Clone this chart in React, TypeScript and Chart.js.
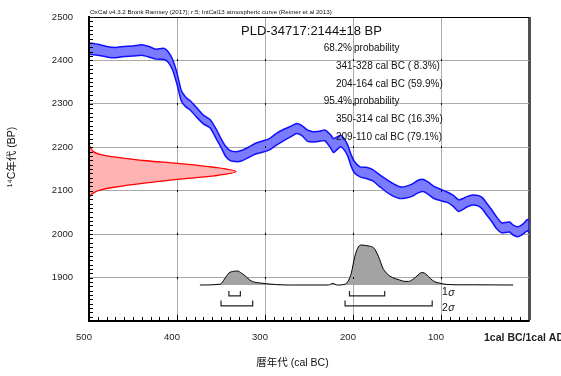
import React, { useEffect, useRef } from 'react';
import { Chart, registerables } from 'chart.js';

Chart.register(...registerables);

const FONT = "'Liberation Sans', Arial, 'Noto Sans CJK JP', sans-serif";

// Calibration curve (IntCal13) – cal BC years with upper / lower 1σ envelope in BP
const calYears = [
  500, 490, 480, 470, 460, 450, 440, 432, 424, 415,
  410, 405, 400, 395, 390, 385, 378, 370, 362, 355,
  350, 345, 340, 333, 326, 318, 310, 302, 295, 287,
  278, 270, 264, 258, 252, 245, 238, 232, 226, 222,
  218, 214, 210, 206, 202, 198, 192, 185, 178, 170,
  162, 155, 147, 140, 133, 126, 120, 114, 108, 100,
  93, 86, 80, 75, 70, 64, 58, 53, 48, 42,
  37, 31, 26, 22, 18, 13, 9, 5, 2, 0,
];
const calUpper = [
  2440, 2437, 2432, 2430, 2432, 2433, 2436, 2432, 2426, 2428,
  2420, 2402, 2371, 2330, 2315, 2307, 2292, 2274, 2263, 2240,
  2220, 2203, 2193, 2190, 2193, 2201, 2210, 2215, 2220, 2232,
  2242, 2249, 2255, 2250, 2240, 2236, 2237, 2240, 2230, 2220,
  2224, 2228, 2220, 2205, 2182, 2166, 2155, 2154, 2149, 2137,
  2126, 2117, 2109, 2110, 2115, 2124, 2126, 2119, 2110, 2103,
  2097, 2089, 2079, 2082, 2087, 2090, 2089, 2084, 2071, 2055,
  2040, 2026, 2027, 2028, 2021, 2017, 2020, 2027, 2034, 2030,
];
const calLower = [
  2414, 2412, 2408, 2406, 2409, 2410, 2412, 2408, 2403, 2402,
  2396, 2378, 2345, 2306, 2293, 2286, 2270, 2254, 2244, 2218,
  2200, 2180, 2170, 2167, 2169, 2177, 2185, 2189, 2194, 2205,
  2216, 2225, 2232, 2227, 2214, 2212, 2214, 2215, 2200, 2188,
  2195, 2201, 2194, 2180, 2156, 2140, 2132, 2128, 2123, 2110,
  2097, 2088, 2082, 2083, 2087, 2095, 2098, 2091, 2082, 2077,
  2073, 2064, 2052, 2057, 2063, 2067, 2065, 2058, 2044, 2028,
  2013, 2003, 2004, 2005, 1998, 1994, 1997, 2003, 2008, 2004,
];

// Measured radiocarbon age distribution (relative probability vs BP)
const measuredBP = [2205, 2190, 2183, 2178, 2169, 2163, 2154, 2144, 2134, 2126, 2118, 2108, 2102, 2095, 2084];
const measuredProb = [0, 0.03, 0.08, 0.17, 0.39, 0.6, 0.85, 1, 0.85, 0.6, 0.39, 0.17, 0.08, 0.03, 0];

// Calibrated distribution (relative probability vs cal BC)
const postYears = [
  374, 351, 346, 341, 336, 331, 327, 322, 317, 312,
  305, 298, 287, 272, 228, 223, 218, 209, 205, 202,
  198, 194, 191, 186, 181, 177, 174, 171, 166, 162,
  158, 152, 147, 141, 137, 132, 126, 122, 119, 116,
  112, 107, 102, 97, 90, 82, 63, 40, 18,
];
const postProb = [
  0, 0.02, 0.15, 0.3, 0.34, 0.35, 0.3, 0.22, 0.12, 0.07,
  0.05, 0.03, 0.01, 0, 0, 0.04, 0, 0.02, 0.12, 0.29,
  0.71, 0.95, 1, 0.99, 0.97, 0.94, 0.85, 0.71, 0.42, 0.3,
  0.22, 0.16, 0.125, 0.09, 0.09, 0.14, 0.25, 0.31, 0.3, 0.25,
  0.16, 0.08, 0.05, 0.025, 0.01, 0.005, 0.005, 0.002, 0,
];

// Ranges
const sigma1Ranges = [[341, 328], [204, 164]];
const sigma1Pct = [8.3, 59.9];
const sigma2Ranges = [[350, 314], [209, 110]];
const sigma2Pct = [16.3, 79.1];
const sigmaLevels = ['68.2%', '95.4%'];
const sigmaNames = ['1', '2'];

// Ticks and texts
const xTickValues = [500, 400, 300, 200, 100, 0];
const xTickLabels = ['500', '400', '300', '200', '100', '1cal BC/1cal AD'];
const yTickValues = [1900, 2000, 2100, 2200, 2300, 2400, 2500];
const headerText = 'OxCal v4.3.2 Bronk Ramsey (2017); r:5; IntCal13 atmospheric curve (Reimer et al 2013)';
const sampleTitle = 'PLD-34717:2144±18 BP';
const yAxisTitle = '¹⁴C年代 (BP)';
const xAxisTitle = '暦年代 (cal BC)';

const fmtRange = (r: number[], p: number) =>
  `${r[0]}-${r[1]} cal BC (${p.toFixed(1).padStart(4, ' ')}%)`;

export default function App() {
  const ref = useRef<HTMLCanvasElement>(null);

  useEffect(() => {
    const canvas = ref.current!;
    const band = [
      ...calYears.map((x, i) => ({ x, y: calUpper[i] })),
      ...calYears.map((x, i) => ({ x, y: calLower[i] })).reverse(),
    ];
    const measured = measuredBP.map((y, i) => ({ x: measuredProb[i], y }));
    const post = postYears.map((x, i) => ({ x, y: postProb[i] }));
    const bracket = (r: number[], top: number, bar: number) => [
      { x: r[0], y: top }, { x: r[0], y: bar }, { x: r[1], y: bar }, { x: r[1], y: top },
    ];
    const bracketSets: any[] = [];
    sigma1Ranges.forEach((r) => bracketSets.push(bracket(r, -0.15, -0.27)));
    sigma2Ranges.forEach((r) => bracketSets.push(bracket(r, -0.39, -0.52)));

    const decor = {
      id: 'decor',
      afterDraw(chart: any) {
        const { ctx, chartArea: a, scales } = chart;
        const sx = scales.x;
        const sy = scales.y;
        const sy2 = scales.y2;
        ctx.save();
        // minor ticks
        ctx.strokeStyle = '#000';
        ctx.lineWidth = 1;
        ctx.beginPath();
        for (let v = 1810; v < 2500; v += 10) {
          const py = Math.round(sy.getPixelForValue(v)) + 0.5;
          ctx.moveTo(a.left, py);
          ctx.lineTo(a.left + 4, py);
        }
        for (let v = 10; v < 500; v += 10) {
          const px = Math.round(sx.getPixelForValue(v)) + 0.5;
          ctx.moveTo(px, a.bottom);
          ctx.lineTo(px, a.bottom - (v % 100 === 0 ? 6 : 4));
        }
        ctx.stroke();
        // grid intersection marks
        ctx.fillStyle = '#000';
        for (const xv of xTickValues) {
          if (xv === 0 || xv === 500) continue;
          for (const yv of yTickValues) {
            if (yv === 2500) continue;
            const px = Math.round(sx.getPixelForValue(xv));
            const py = Math.round(sy.getPixelForValue(yv));
            ctx.fillRect(px, py - 1, 1, 2);
          }
        }

        ctx.fillStyle = '#111';
        ctx.textBaseline = 'middle';
        ctx.textAlign = 'left';
        ctx.font = `6.2px ${FONT}`;
        ctx.fillText(headerText, a.left + 1, 12);

        ctx.font = `13px ${FONT}`;
        ctx.fillText(sampleTitle, 241, 31);

        ctx.font = `10px ${FONT}`;
        const rowH = 17.8;
        let yy = 48.3;
        const groups = [
          { lvl: sigmaLevels[0], ranges: sigma1Ranges, pct: sigma1Pct },
          { lvl: sigmaLevels[1], ranges: sigma2Ranges, pct: sigma2Pct },
        ];
        for (const g of groups) {
          ctx.textAlign = 'right';
          ctx.fillText(g.lvl, 352, yy);
          ctx.textAlign = 'left';
          ctx.fillText('probability', 354, yy);
          yy += rowH;
          g.ranges.forEach((r, i) => {
            ctx.fillText(fmtRange(r, g.pct[i]), 336, yy);
            yy += rowH;
          });
        }

        // axis titles
        ctx.font = `10.5px ${FONT}`;
        ctx.textAlign = 'center';
        ctx.fillText(xAxisTitle, 292.5, 363);
        ctx.save();
        ctx.translate(12, 157);
        ctx.rotate(-Math.PI / 2);
        ctx.fillText(yAxisTitle, 0, 0);
        ctx.restore();

        // sigma labels
        const lx = sx.getPixelForValue(100) + 1;
        const ly = [sy2.getPixelForValue(-0.19), sy2.getPixelForValue(-0.58)];
        sigmaNames.forEach((n, i) => {
          ctx.textAlign = 'left';
          ctx.font = `10.5px ${FONT}`;
          ctx.fillText(n, lx, ly[i]);
          const w = ctx.measureText(n).width;
          ctx.font = `italic 10.5px ${FONT}`;
          ctx.fillText('σ', lx + w + 0.5, ly[i]);
        });
        ctx.restore();
      },
    };

    const chart = new Chart(canvas, {
      type: 'line',
      data: {
        datasets: [
          {
            data: measured,
            xAxisID: 'xp',
            yAxisID: 'y',
            fill: 'shape',
            backgroundColor: '#ffb3b3',
            borderColor: '#ff0000',
            borderWidth: 1.3,
            pointRadius: 0,
            tension: 0.35,
          },
          {
            data: band,
            xAxisID: 'x',
            yAxisID: 'y',
            fill: 'shape',
            backgroundColor: '#7b7bff',
            borderColor: '#1010ff',
            borderWidth: 1.5,
            pointRadius: 0,
            tension: 0.2,
          },
          {
            data: post,
            xAxisID: 'x',
            yAxisID: 'y2',
            fill: 'origin',
            backgroundColor: '#a3a3a3',
            borderColor: '#000',
            borderWidth: 1,
            pointRadius: 0,
            cubicInterpolationMode: 'monotone',
          },
          ...bracketSets.map((d) => ({
            data: d,
            xAxisID: 'x',
            yAxisID: 'y2',
            fill: false,
            borderColor: '#222',
            borderWidth: 1.2,
            pointRadius: 0,
            tension: 0,
          })),
        ] as any,
      },
      options: {
        animation: false,
        responsive: false,
        devicePixelRatio: 1,
        events: [],
        layout: { padding: { left: 0, right: 32, top: 17, bottom: 0 } },
        plugins: { legend: { display: false }, tooltip: { enabled: false } },
        scales: {
          x: {
            type: 'linear',
            min: 0,
            max: 500,
            reverse: true,
            ticks: {
              stepSize: 100,
              autoSkip: false,
              maxRotation: 0,
              padding: 11,
              labelOffset: -5,
              color: '#222',
              font: (c: any) =>
                c.tick && c.tick.value === 0
                  ? { family: FONT, size: 10.5, weight: 'bold' }
                  : { family: FONT, size: 9.5 },
              callback: (v: any) => {
                const i = xTickValues.indexOf(Number(v));
                return i >= 0 ? xTickLabels[i] : '';
              },
            },
            grid: {
              drawTicks: false,
              color: (c: any) => (c.tick && c.tick.value === 0 ? '#505050' : '#aaaaaa'),
              lineWidth: (c: any) => (c.tick && c.tick.value === 0 ? 3 : 1),
            },
            border: { color: '#000', width: 1.5, z: 1 },
            afterFit: (s: any) => {
              s.height = 55;
              s.paddingLeft = 0;
              s.paddingRight = 0;
            },
          },
          y: {
            type: 'linear',
            min: 1800,
            max: 2500,
            ticks: {
              stepSize: 100,
              padding: 16,
              color: '#222',
              font: { family: FONT, size: 9.5 },
              callback: (v: any) => (yTickValues.indexOf(Number(v)) >= 0 ? String(v) : ''),
            },
            grid: {
              drawTicks: false,
              color: (c: any) =>
                c.tick && (c.tick.value === 2500 || c.tick.value === 1800) ? '#000' : '#aaaaaa',
            },
            border: { color: '#000', width: 2, z: 1 },
            afterFit: (s: any) => {
              s.width = 89;
              s.paddingTop = 0;
              s.paddingBottom = 0;
            },
          },
          xp: { type: 'linear', axis: 'x', min: 0, max: 2.993, display: false },
          y2: { type: 'linear', axis: 'y', min: -0.9, max: 6.7, display: false },
        } as any,
      },
      plugins: [decor],
    });
    return () => chart.destroy();
  }, []);

  return (
    <div style={{ position: 'fixed', left: 0, top: 0, width: 561, height: 376, background: '#fff' }}>
      <canvas ref={ref} width={561} height={376} style={{ width: 561, height: 376, display: 'block' }} />
    </div>
  );
}
